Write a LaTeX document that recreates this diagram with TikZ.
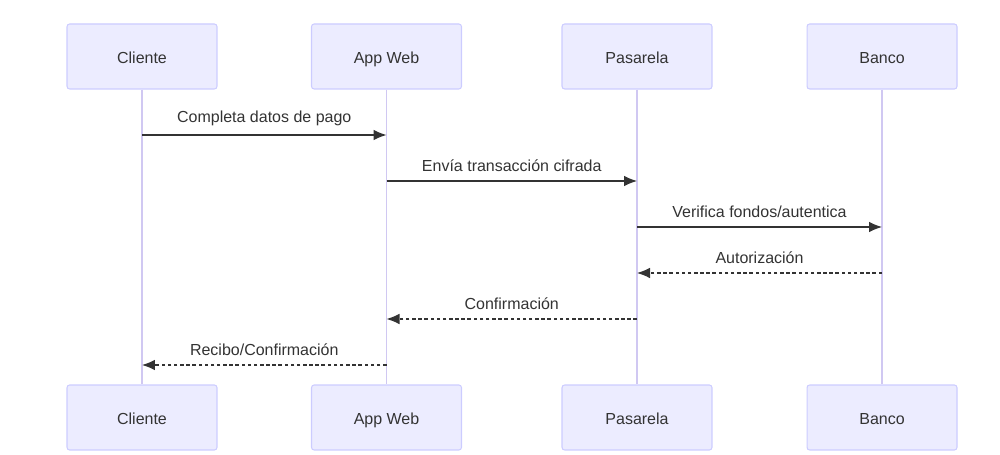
\documentclass[tikz,border=0pt]{standalone}
\usepackage{fontspec}
\setmainfont{Liberation Sans}
\usepackage{xcolor}
\usetikzlibrary{arrows.meta}
\definecolor{actfill}{HTML}{ECECFF}
\definecolor{actline}{HTML}{CCCCFF}
\definecolor{lifeln}{HTML}{D0C8F2}
\definecolor{msgcol}{HTML}{333333}

\begin{document}
\begin{tikzpicture}[x=0.02cm, y=-0.02cm, font=\fontsize{9.1}{11}\selectfont, text=msgcol,
    actor/.style={shape=rectangle, draw=actline, fill=actfill, rounded corners=1.5pt, minimum width=3cm, minimum height=1.3cm, line width=0.6pt, text height=2.1ex, text depth=0.5ex},
    msg/.style={msgcol, line width=0.6pt, -{Latex[length=2.6mm,width=2.1mm]}},
    reply/.style={msg, dashed, dash pattern=on 2pt off 1.5pt}]
    \useasboundingbox (0,0) rectangle (1000,455);
    \node[actor] (cliT) at (142, 56.5) {Cliente};
    \node[actor] (appT) at (386.5, 56.5) {App Web};
    \node[actor] (pasT) at (637, 56.5) {Pasarela};
    \node[actor] (banT) at (882, 56.5) {Banco};
    \node[actor] (cliB) at (142, 417.5) {Cliente};
    \node[actor] (appB) at (386.5, 417.5) {App Web};
    \node[actor] (pasB) at (637, 417.5) {Pasarela};
    \node[actor] (banB) at (882, 417.5) {Banco};

    % lifelines
    \foreach \a in {cli, app, pas, ban}
        \draw [lifeln, line width=1pt] (\a T.south) -- (\a B.north);

    % messages
    \coordinate (m1a) at (142, 135);  \coordinate (m1b) at (386.5, 135);
    \coordinate (m2a) at (386.5, 181); \coordinate (m2b) at (637, 181);
    \coordinate (m3a) at (637, 227);  \coordinate (m3b) at (882, 227);
    \coordinate (m4a) at (882, 273);  \coordinate (m4b) at (637, 273);
    \coordinate (m5a) at (637, 319);  \coordinate (m5b) at (386.5, 319);
    \coordinate (m6a) at (386.5, 365); \coordinate (m6b) at (142, 365);

    \draw [msg] (m1a) -- node[above=1.5pt] {Completa datos de pago} (m1b);
    \draw [msg] (m2a) -- node[above=1.5pt] {Envía transacción cifrada} (m2b);
    \draw [msg] (m3a) -- node[above=1.5pt] {Verifica fondos/autentica} (m3b);
    \draw [reply] (m4a) -- node[above=1.5pt] {Autorización} (m4b);
    \draw [reply] (m5a) -- node[above=1.5pt] {Confirmación} (m5b);
    \draw [reply] (m6a) -- node[above=1.5pt] {Recibo/Confirmación} (m6b);
\end{tikzpicture}
\end{document}
